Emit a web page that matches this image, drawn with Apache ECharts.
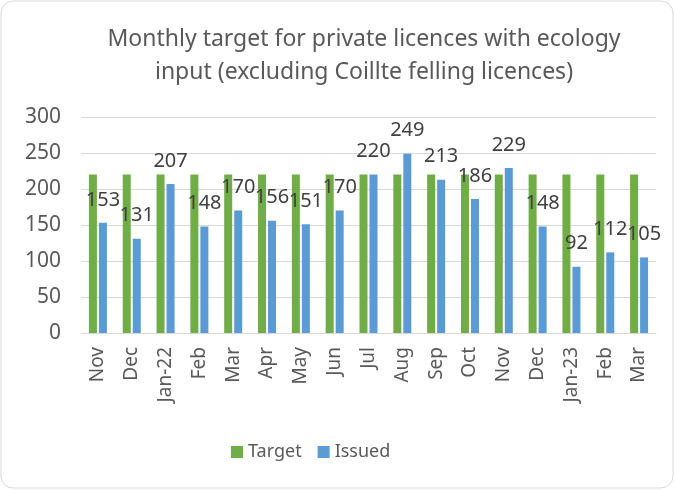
<!DOCTYPE html>
<html>
<head>
<meta charset="utf-8">
<script src="https://cdn.jsdelivr.net/npm/echarts@6/dist/echarts.min.js"></script>
<style>
  html, body { margin: 0; padding: 0; background: #fff; }
  #chart { width: 675px; height: 490px; }
</style>
</head>
<body>
<div id="chart"></div>
<script>
var months = ['Nov','Dec','Jan-22','Feb','Mar','Apr','May','Jun','Jul','Aug','Sep','Oct','Nov','Dec','Jan-23','Feb','Mar'];
var target = [220,220,220,220,220,220,220,220,220,220,220,220,220,220,220,220,220];
var issued = [153,131,207,148,170,156,151,170,220,249,213,186,229,148,92,112,105];
var yTicks = [0, 300, 50];

var font = 'Noto Sans';
var chart = echarts.init(document.getElementById('chart'));
var option = {
  backgroundColor: '#fff',
  color: ['#70ad47', '#5b9bd5'],
  title: {
    text: 'Monthly target for private licences with ecology\ninput (excluding Coillte felling licences)',
    left: 359,
    top: 18,
    textAlign: 'center',
    textStyle: { fontFamily: font, fontSize: 23, fontWeight: 'normal', color: '#595959', lineHeight: 33 }
  },
  graphic: [{
    type: 'rect',
    shape: { x: 1, y: 1, width: 672, height: 487, r: 12 },
    style: { fill: 'none', stroke: '#d9d9d9', lineWidth: 1 },
    silent: true
  }],
  legend: {
    bottom: 24,
    left: 226,
    itemWidth: 12,
    itemHeight: 12,
    itemGap: 16,
    icon: 'rect',
    textStyle: { fontFamily: font, fontSize: 18, color: '#595959' },
    data: ['Target', 'Issued']
  },
  grid: { left: 81, right: 19, top: 117, bottom: 157 },
  xAxis: {
    type: 'category',
    data: months,
    axisLine: { lineStyle: { color: '#d9d9d9' } },
    axisTick: { show: false },
    axisLabel: { rotate: 90, interval: 0, fontFamily: font, fontSize: 19, color: '#595959', margin: 14 }
  },
  yAxis: {
    type: 'value',
    min: yTicks[0],
    max: yTicks[1],
    interval: yTicks[2],
    axisLine: { show: false },
    axisTick: { show: false },
    splitLine: { lineStyle: { color: '#d9d9d9' } },
    axisLabel: { fontFamily: font, fontSize: 21, color: '#595959', margin: 20 }
  },
  series: [
    { name: 'Target', type: 'bar', data: target, barWidth: 8, barGap: '25%' },
    {
      name: 'Issued', type: 'bar', data: issued, barWidth: 8,
      label: { show: true, position: 'top', distance: 13, fontFamily: font, fontSize: 20, color: '#404040' }
    }
  ]
};
chart.setOption(option);
</script>
</body>
</html>
